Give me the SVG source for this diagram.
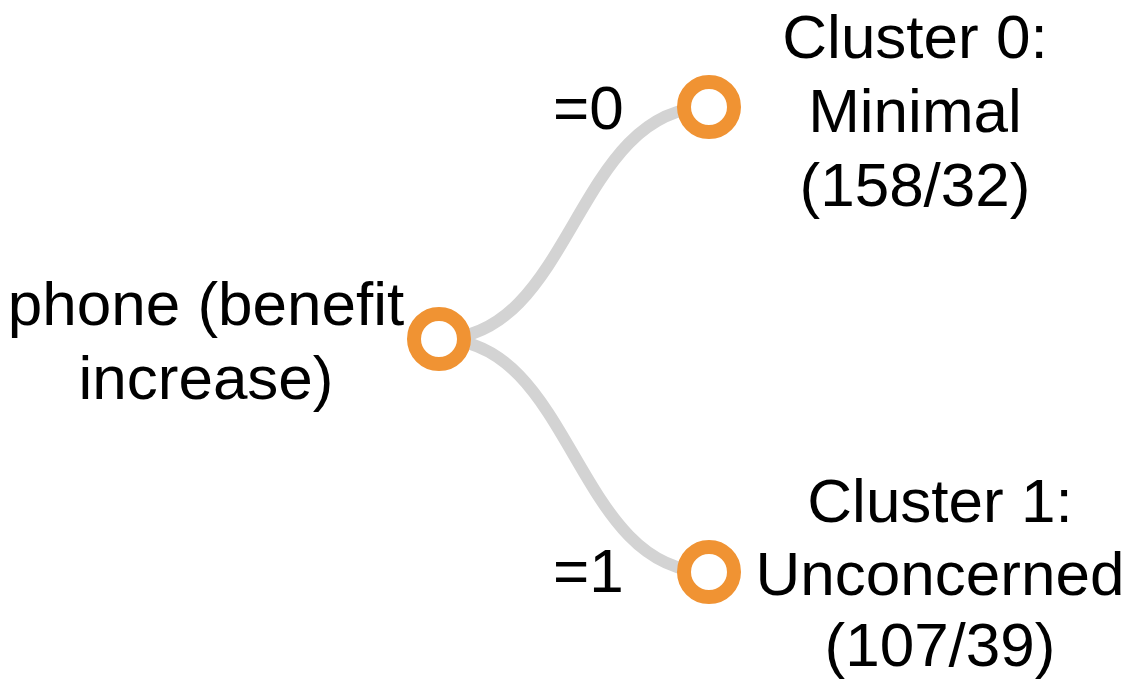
<svg xmlns="http://www.w3.org/2000/svg" width="1140" height="680" viewBox="0 0 1140 680">
<style>
.link{fill:none;stroke:#d3d3d3;stroke-width:12}
.node circle{fill:#fff;stroke:#f09333;stroke-width:14}
text{font-family:"Liberation Sans",Arial,sans-serif;font-size:62px;fill:#000}
.c{text-anchor:middle}
</style>
<rect width="1140" height="680" fill="#fff"/>
<g id="links">
<path class="link" d="M439,339 C574,339 574,107 709,107"/>
<path class="link" d="M439,339 C574,339 574,572 709,572"/>
</g>
<g id="edge-labels">
<text x="553" y="129">=0</text>
<text x="553" y="592">=1</text>
</g>
<g id="root" class="node">
<circle cx="439" cy="339" r="25"/>
<text class="c" x="206" y="325">phone (benefit</text>
<text class="c" x="206" y="399">increase)</text>
</g>
<g id="cluster0" class="node">
<circle cx="709" cy="107" r="25"/>
<text class="c" x="915" y="58">Cluster 0:</text>
<text class="c" x="915" y="132">Minimal</text>
<text class="c" x="915" y="206">(158/32)</text>
</g>
<g id="cluster1" class="node">
<circle cx="709" cy="572" r="25"/>
<text class="c" x="940" y="522">Cluster 1:</text>
<text class="c" x="940" y="595">Unconcerned</text>
<text class="c" x="940" y="666">(107/39)</text>
</g>
</svg>
